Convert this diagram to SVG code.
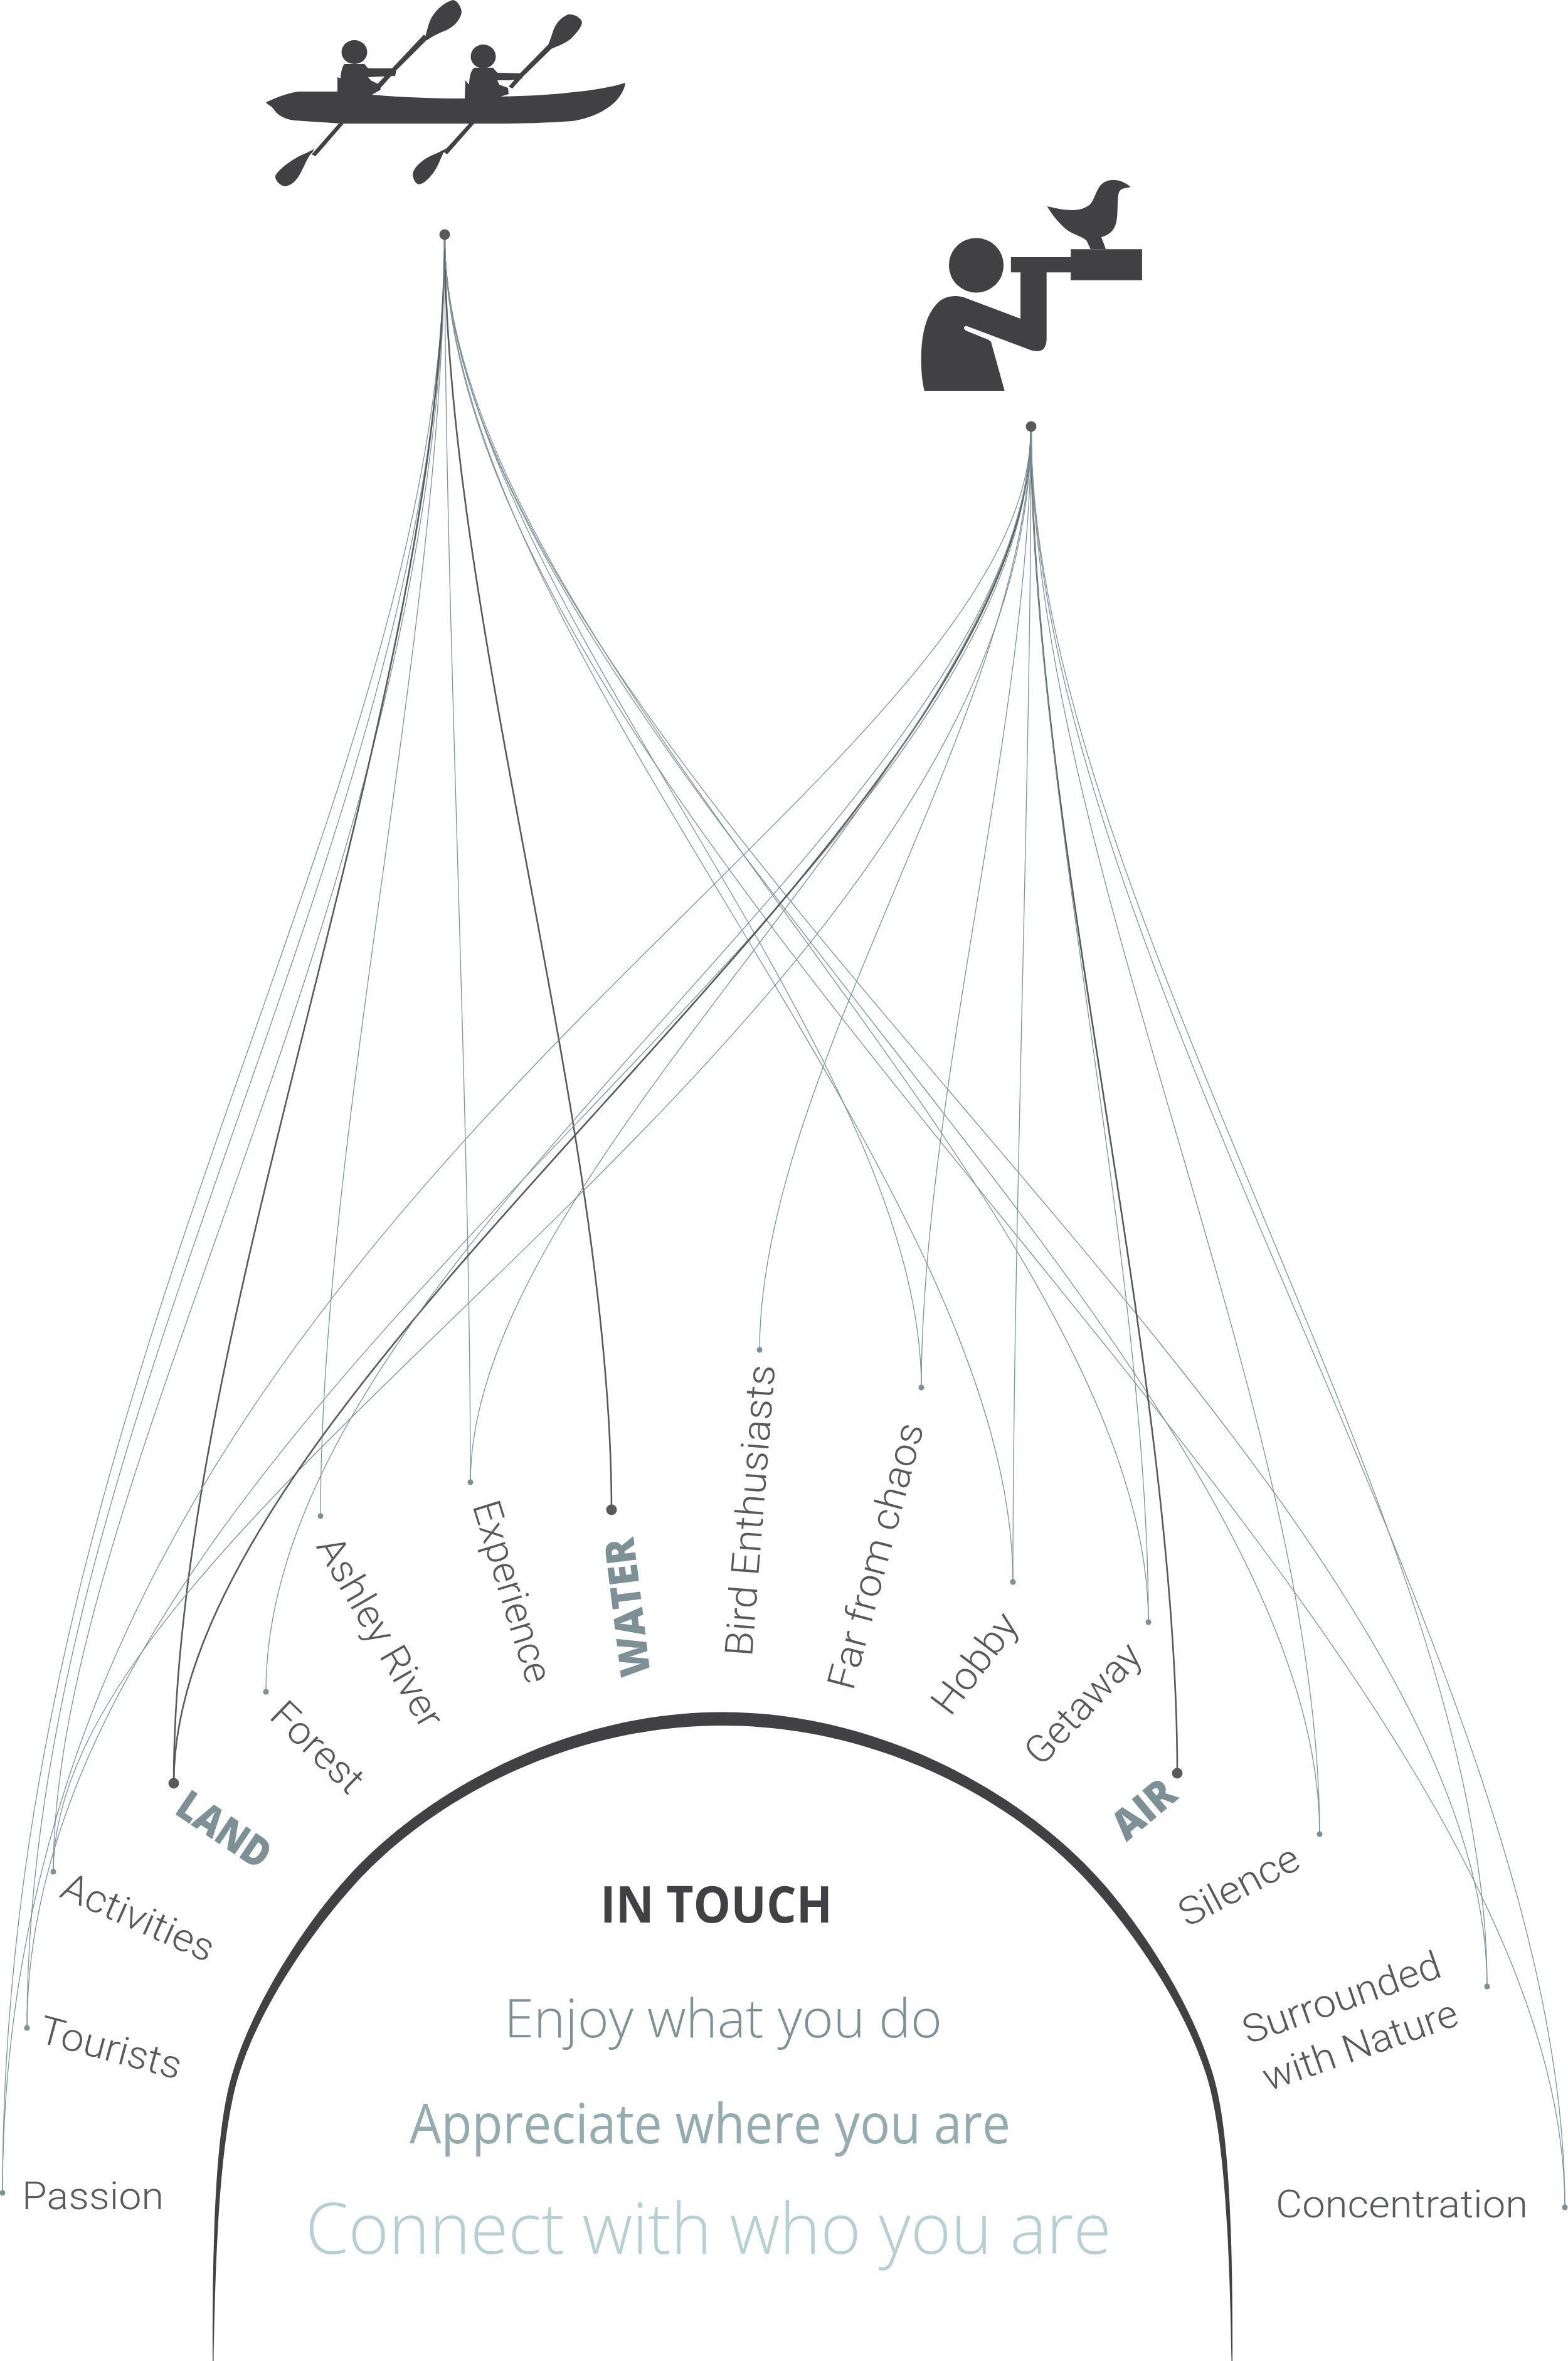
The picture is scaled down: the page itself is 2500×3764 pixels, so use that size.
<svg xmlns="http://www.w3.org/2000/svg" width="2500" height="3764" viewBox="0 0 2500 3764">
<style>
.c{fill:none;stroke:#7c9096;stroke-width:1.3}
.d{fill:none;stroke:#58595b;stroke-width:2.6}
.dot{fill:#7c9096}
.big{fill:#58595b}
.sil{fill:#414042}
text{font-family:Roboto,"Liberation Sans",sans-serif}
.l{font-size:62px;font-weight:300;fill:#58595b}
.b{font-family:"Open Sans",Roboto,sans-serif;font-size:66px;font-weight:800;fill:#7c9096}
.m{font-family:"Open Sans",Roboto,sans-serif}
</style>
<rect width="2500" height="3764" fill="#fff"/>
<g id="kayak" class="sil">
<path d="M424,163C435,158 460,147 478,146L538,146L538,123L543,125C543,118 545,107 549,102L581,102L587,109L626,109L632,112L630,121L587,123L591,128L605,135L607,143L593,151C640,155 690,157 741,157L742,128L748,135C748,125 750,113 756,108L786,108L793,116L830,117L833,125L814,128L793,128L796,135L810,140L811,150L798,154C840,153 880,151 913,147C945,144 975,139 997,132C996,143 987,157 978,165C965,176 945,188 913,193C870,196 830,197 790,197L544,197L470,192C455,190 448,186 441,180L433,170C429,168 425,165 424,163Z"/>
<ellipse cx="565" cy="83" rx="20.500" ry="19"/>
<ellipse cx="770.500" cy="90" rx="20" ry="19"/>
<path d="M540,197L497,246L503,249L548,197ZM599,137L626,108L676,55L682,62L630,114L606,141ZM748,197L707,242L713,246L756,197ZM811,138L830,116L873,72L879,78L834,122L817,141Z"/>
<path d="M677,62C681,50 683,35 690,25C697,14 710,3 722,0C730,1 736,12 736,20C733,33 724,42 712,48C704,51 692,56 681,64Z"/>
<path d="M501,237C496,241 485,245 475,250C458,260 445,270 439,280C438,288 448,297 456,297C468,294 474,285 478,278C484,268 490,250 498,243Z"/>
<path d="M872,75C877,68 880,52 885,42C890,33 898,26 906,23C916,22 926,28 928,35C928,42 920,52 910,62C900,70 888,74 876,79Z"/>
<path d="M712,236C702,243 690,246 680,252C668,260 660,268 658,277C658,284 662,293 668,294C678,292 686,282 692,274C700,262 704,248 709,240Z"/>
</g>
<g id="birdwatcher" class="sil" transform="matrix(1.015 0 0 1 -21.300 0)">
<ellipse cx="1554.500" cy="423" rx="43" ry="43.500"/>
<path d="M1609,410H1703V397.300H1815V446.700H1703V434.300H1609Z"/>
<path d="M1473,623C1469,605 1468,590 1468,573C1468,540 1473,510 1488,490C1497,477 1508,472 1522,472C1528,472 1532,473 1535,474L1624,508V434H1665V540C1665,548 1663,554 1658,558C1652,561 1644,560 1637,557L1540,520C1536,519 1534,523 1536,525L1538,527L1572,541C1575,542 1577,544 1578,546L1599,623Z"/>
<path d="M1666,329C1680,332 1692,335 1706,335C1718,335 1728,331 1734,325C1740,318 1742,305 1750,295C1757,288 1763,287 1770,287C1780,287 1790,292 1797,298C1790,300 1783,300 1780,304C1776,310 1777,325 1776,343C1775,355 1773,362 1768,368C1763,374 1757,376 1751,378L1758,397H1734L1728,384C1725,379 1710,375 1699,368C1688,360 1675,345 1666,329Z"/>
</g>
<g id="connectors">
<path class="c" d="M709,374C709,1274 4,2196 4,3496"/>
<path class="c" d="M709,374C709,1324 43,2253 43,3233"/>
<path class="c" d="M709,374C709,1394 85,2354 85,2984"/>
<path class="d" d="M709,374C709,1115 277,2102 277,2843"/>
<path class="c" d="M709,374C709,987 511,1804 511,2417"/>
<path class="c" d="M709,374C709,971 750,1766 750,2363"/>
<path class="d" d="M709,374C709,984 975,1797 975,2407"/>
<path class="c" d="M709,374C709,925 1469,1661 1469,2212"/>
<path class="c" d="M709,374C709,1018 1615,1878 1615,2522"/>
<path class="c" d="M709,374C709,1038 1831,1922 1831,2586"/>
<path class="c" d="M709,374C709,1139 2104,2159 2104,2924"/>
<path class="c" d="M709,374C709,1212 2371,2329 2371,3167"/>
<path class="c" d="M709,374C709,1318 2495,2575 2495,3519"/>
<path class="c" d="M1644,680C1644,1280 4,1936 4,3496"/>
<path class="c" d="M1644,680C1644,1430 43,2253 43,3233"/>
<path class="c" d="M1644,680C1644,1630 85,2384 85,2984"/>
<path class="d" d="M1644,680C1644,1330 277,2193 277,2843"/>
<path class="c" d="M1644,680C1644,1280 424,1997 424,2697"/>
<path class="c" d="M1644,680C1644,1185 750,1858 750,2363"/>
<path class="c" d="M1644,680C1644,1122 1211,1710 1211,2152"/>
<path class="c" d="M1644,680C1644,1140 1469,1752 1469,2212"/>
<path class="c" d="M1644,680C1644,1233 1615,1969 1615,2522"/>
<path class="d" d="M1644,680C1644,1324 1877,2183 1877,2827"/>
<path class="c" d="M1644,680C1644,1252 1831,2014 1831,2586"/>
<path class="c" d="M1644,680C1644,1353 2104,2251 2104,2924"/>
<path class="c" d="M1644,680C1644,1426 2371,2421 2371,3167"/>
<path class="c" d="M1644,680C1644,1532 2495,2667 2495,3519"/>
</g>
<g id="hub-kayak"><circle class="big" cx="709" cy="374" r="8.500"/></g>
<g id="hub-bird"><circle class="big" cx="1644" cy="680" r="8.500"/></g>
<g id="arch"><path class="sil" d="M339,3764C338.500,3600 342,3434 362,3339C387,3220 477,3078 552,2995C677,2856 904,2729.500 1152,2729.500C1400,2729.500 1627,2856 1752,2995C1827,3078 1917,3220 1942,3339C1962,3434 1965.500,3600 1965,3764H1963.500C1960,3560 1952,3434 1932,3341C1906,3222 1814,3088 1740,3006C1615,2867 1396,2751 1152,2751C908,2751 689,2867 564,3006C490,3088 398,3222 372,3341C352,3434 344,3560 340.500,3764Z"/></g>
<g id="center-text" class="m">
<text class="m" x="957" y="3065" font-size="81" font-weight="700" fill="#414042" textLength="370" lengthAdjust="spacingAndGlyphs">IN TOUCH</text>
<text class="m" x="804" y="3248" font-size="85" font-weight="300" fill="#7c9096" textLength="698" lengthAdjust="spacingAndGlyphs">Enjoy what you do</text>
<text class="m" x="653" y="3417" font-size="87" font-weight="400" fill="#94acb0" textLength="958" lengthAdjust="spacingAndGlyphs">Appreciate where you are</text>
<text class="m" x="487" y="3593" font-size="112" font-weight="300" fill="#b5cfd3" textLength="1285" lengthAdjust="spacingAndGlyphs">Connect with who you are</text>
</g>
<g id="passion"><circle class="dot" cx="4" cy="3496" r="4.500"/><text class="l" x="35" y="3522" textLength="226" lengthAdjust="spacingAndGlyphs">Passion</text></g>
<g id="tourists"><circle class="dot" cx="43" cy="3233" r="4.500"/><text class="l" transform="translate(59,3255) rotate(15)" textLength="232" lengthAdjust="spacingAndGlyphs">Tourists</text></g>
<g id="activities"><circle class="dot" cx="85" cy="2984" r="4.500"/><text class="l" transform="translate(93,3023) rotate(24)" textLength="260" lengthAdjust="spacingAndGlyphs">Activities</text></g>
<g id="land"><circle class="big" cx="277" cy="2843" r="8.500"/><text class="b" transform="translate(276,2890) rotate(34)" textLength="165" lengthAdjust="spacingAndGlyphs">LAND</text></g>
<g id="forest"><circle class="dot" cx="424" cy="2697" r="4.500"/><text class="l" transform="translate(427,2738) rotate(44)" textLength="180" lengthAdjust="spacingAndGlyphs">Forest</text></g>
<g id="ashley"><circle class="dot" cx="511" cy="2417" r="4.500"/><text class="l" transform="translate(503,2465) rotate(60)" textLength="341" lengthAdjust="spacingAndGlyphs">Ashley River</text></g>
<g id="experience"><circle class="dot" cx="750" cy="2363" r="4.500"/><text class="l" transform="translate(753,2400) rotate(73)" textLength="300" lengthAdjust="spacingAndGlyphs">Experience</text></g>
<g id="water"><circle class="big" cx="975" cy="2407" r="8.500"/><text class="b" transform="translate(1037,2670) rotate(-97)" textLength="222" lengthAdjust="spacingAndGlyphs">WATER</text></g>
<g id="bird-enthusiasts"><circle class="dot" cx="1211" cy="2152" r="4.500"/><text class="l" transform="translate(1199,2642) rotate(-85.500)" textLength="466" lengthAdjust="spacingAndGlyphs">Bird Enthusiasts</text></g>
<g id="far-from-chaos"><circle class="dot" cx="1469" cy="2212" r="4.500"/><text class="l" transform="translate(1360,2697) rotate(-75)" textLength="437" lengthAdjust="spacingAndGlyphs">Far from chaos</text></g>
<g id="hobby"><circle class="dot" cx="1615" cy="2522" r="4.500"/><text class="l" transform="translate(1515,2738) rotate(-53)" textLength="185" lengthAdjust="spacingAndGlyphs">Hobby</text></g>
<g id="getaway"><circle class="dot" cx="1831" cy="2586" r="4.500"/><text class="l" transform="translate(1660,2818) rotate(-47)" textLength="240" lengthAdjust="spacingAndGlyphs">Getaway</text></g>
<g id="air"><circle class="big" cx="1877" cy="2827" r="8.500"/><text class="b" transform="translate(1796,2937) rotate(-40)" textLength="110" lengthAdjust="spacingAndGlyphs">AIR</text></g>
<g id="silence"><circle class="dot" cx="2104" cy="2924" r="4.500"/><text class="l" transform="translate(1893,3073) rotate(-27.700)" textLength="208" lengthAdjust="spacingAndGlyphs">Silence</text></g>
<g id="surrounded"><circle class="dot" cx="2371" cy="3167" r="4.500"/><text class="l" transform="translate(1990,3259) rotate(-19.200)" textLength="330" lengthAdjust="spacingAndGlyphs">Surrounded</text><text class="l" transform="translate(2022,3334) rotate(-19.200)" textLength="325" lengthAdjust="spacingAndGlyphs">with Nature</text></g>
<g id="concentration"><circle class="dot" cx="2495" cy="3519" r="4.500"/><text class="l" x="2034" y="3535" textLength="402" lengthAdjust="spacingAndGlyphs">Concentration</text></g>
</svg>
